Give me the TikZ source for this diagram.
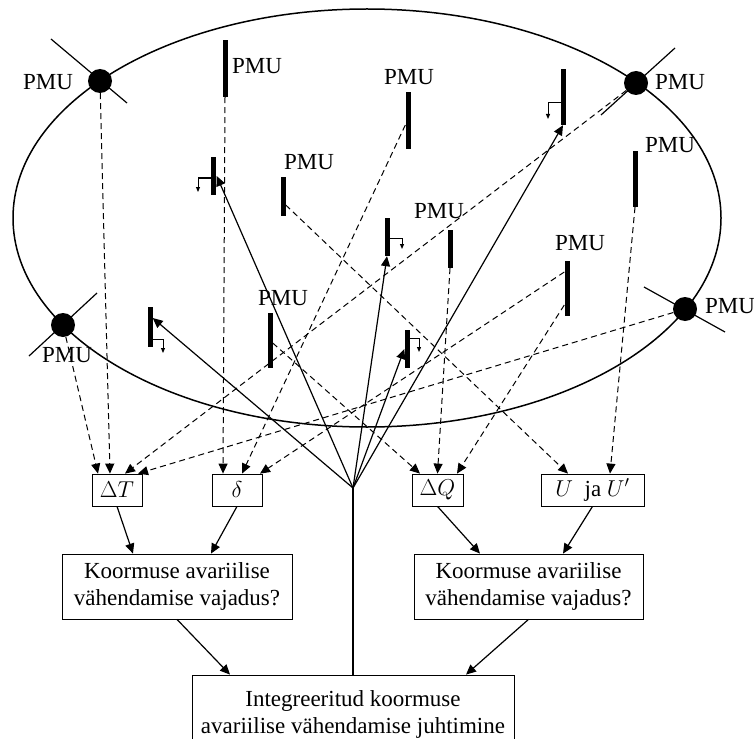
\RequirePackage{fix-cm}
\documentclass[tikz,border=0pt]{standalone}
\usepackage{fontspec}
\setmainfont{Liberation Serif}
\usetikzlibrary{arrows.meta,calc}
\begin{document}
\begin{tikzpicture}[x=1pt,y=-1pt,
  every node/.style={font=\fontsize{23}{27}\selectfont},
  pmubar/.style={fill=black,inner sep=0,minimum width=5pt},
  pmuc/.style={circle,fill=black,inner sep=0,minimum size=24pt},
  lbl/.style={inner sep=0},
  valbox/.style={draw,line width=0.8pt,inner sep=0,minimum height=32pt},
  kbox/.style={draw,line width=0.8pt,align=center,inner sep=0,minimum height=65pt},
  dasharrow/.style={dash pattern=on 6pt off 4pt,line width=1pt,-{Triangle[length=10pt,width=9pt]}},
  solidarrow/.style={line width=1.2pt,-{Triangle[length=10pt,width=9pt]}},
  hookarrow/.style={line width=1pt,-{Triangle[length=5pt,width=4pt]}},
  xline/.style={line width=1.2pt},
]
\useasboundingbox (0,0) rectangle (754,738);
\clip (0,0) rectangle (754,738);

% network boundary
\draw[line width=1.5pt] (367,218) ellipse [x radius=354, y radius=209];

% PMU circles with crossing lines
\draw[xline] (51,39) -- (127,103);
\draw[xline] (675,48) -- (601,115);
\draw[xline] (97,293) -- (29,356);
\draw[xline] (644,287) -- (725,332);
\node[pmuc] (A) at (100,81) {};
\node[pmuc] (B) at (636,83) {};
\node[pmuc] (C) at (63,325) {};
\node[pmuc] (D) at (685,309) {};
\node[lbl] (Al) at (48,82) {PMU};
\node[lbl] (Bl) at (680,82) {PMU};
\node[lbl] (Cl) at (67,355) {PMU};
\node[lbl] (Dl) at (730,306) {PMU};

% PMU bars
\node[pmubar,minimum height=57pt] (P1) at (225,68.5) {};
\node[pmubar,minimum height=57pt] (P2) at (408,120.5) {};
\node[pmubar,minimum height=39pt] (P3) at (283,196.5) {};
\node[pmubar,minimum height=38pt] (P4) at (450,249) {};
\node[pmubar,minimum height=56pt] (P5) at (635,179) {};
\node[pmubar,minimum height=55pt] (P6) at (567,288.5) {};
\node[pmubar,minimum height=55pt] (P7) at (270,340.5) {};
\node[lbl,anchor=west] (P1l) at (232,66) {PMU};
\node[lbl] (P2l) at (409,77) {PMU};
\node[lbl] (P3l) at (309,162) {PMU};
\node[lbl] (P4l) at (439,211) {PMU};
\node[lbl] (P5l) at (670,145) {PMU};
\node[lbl] (P6l) at (580,243) {PMU};
\node[lbl] (P7l) at (283,298) {PMU};

% switches
\node[pmubar,minimum height=38pt] (S1) at (213,176) {};
\node[pmubar,minimum height=40pt] (S2) at (150,327) {};
\node[pmubar,minimum height=38pt] (S3) at (387,237) {};
\node[pmubar,minimum height=38pt] (S4) at (407,349) {};
\node[pmubar,minimum height=56pt] (S5) at (563,97) {};
\draw[hookarrow] ([yshift=-2pt]S1.center) -- ++(-15,0) -- ++(0,14);
\draw[hookarrow] ([yshift=-12pt]S2.center) -- ++(13,0) -- ++(0,14);
\draw[hookarrow] ([yshift=-1pt]S3.center) -- ++(15,0) -- ++(0,11);
\draw[hookarrow] ([yshift=11pt]S4.center) -- ++(12,0) -- ++(0,14);
\draw[hookarrow] ([yshift=-6pt]S5.center) -- ++(-15,0) -- ++(0,16);

% value boxes
\node[valbox,minimum width=50pt] (dT) at (117,490) {$\Delta T$};
\node[valbox,minimum width=50pt] (dl) at (237,490) {$\delta$};
\node[valbox,minimum width=51pt] (dQ) at (437.5,490) {$\Delta Q$};
\node[valbox,minimum width=103pt] (U) at (592.5,490) {$U$\enspace ja $U'$};

% decision boxes
\node[kbox,minimum width=230pt] (K1) at (177,586.5) {Koormuse avariilise\\vähendamise vajadus?};
\node[kbox,minimum width=229pt] (K2) at (528.5,586.5) {Koormuse avariilise\\vähendamise vajadus?};
\node[kbox,minimum width=322pt,minimum height=78pt] (I) at (353,714) {Integreeritud koormuse\\avariilise vähendamise juhtimine};

% dashed measurement arrows
\draw[dasharrow] (A) -- ([xshift=-7pt]dT.north);
\draw[dasharrow] (C) -- ([xshift=-19pt]dT.north);
\draw[dasharrow] (B) -- ([xshift=8pt]dT.north);
\draw[dasharrow] (D) -- ([xshift=21pt]dT.north);
\draw[dasharrow] (P1.south) -- ([xshift=-14pt]dl.north);
\draw[dasharrow] ([yshift=-4.5pt]P2.west) -- ([xshift=5pt]dl.north);
\draw[dasharrow] ([yshift=16.5pt]P6.west) -- ([xshift=23pt]dl.north);
\draw[dasharrow] ([yshift=-2.5pt]P7.east) -- ([xshift=-17.5pt]dQ.north);
\draw[dasharrow] (P4.south) -- (dQ.north);
\draw[dasharrow] ([yshift=-16.5pt]P6.west) -- ([xshift=19.5pt]dQ.north);
\draw[dasharrow] ([yshift=-8.5pt]P3.east) -- ([xshift=-24.5pt]U.north);
\draw[dasharrow] (P5.south) -- ([xshift=17.5pt]U.north);

% control lines
\coordinate (hub) at (353,488);
\draw[line width=1.2pt] (I.north) -- (hub);
\draw[solidarrow] (hub) -- ([xshift=1pt]S1.east);
\draw[solidarrow] (hub) -- ([yshift=9pt]S2.east);
\draw[solidarrow] (hub) -- (S3.south);
\draw[solidarrow] (hub) -- (S4.west);
\draw[solidarrow] (hub) -- (S5.south);

% flow arrows
\draw[solidarrow] (dT.south) -- ([xshift=-44pt]K1.north);
\draw[solidarrow] (dl.south) -- ([xshift=34pt]K1.north);
\draw[solidarrow] (dQ.south) -- ([xshift=-48.5pt]K2.north);
\draw[solidarrow] (U.south) -- ([xshift=34.5pt]K2.north);
\draw[solidarrow] (K1.south) -- ([xshift=-123pt]I.north);
\draw[solidarrow] (K2.south) -- ([xshift=113pt]I.north);
\end{tikzpicture}
\end{document}
